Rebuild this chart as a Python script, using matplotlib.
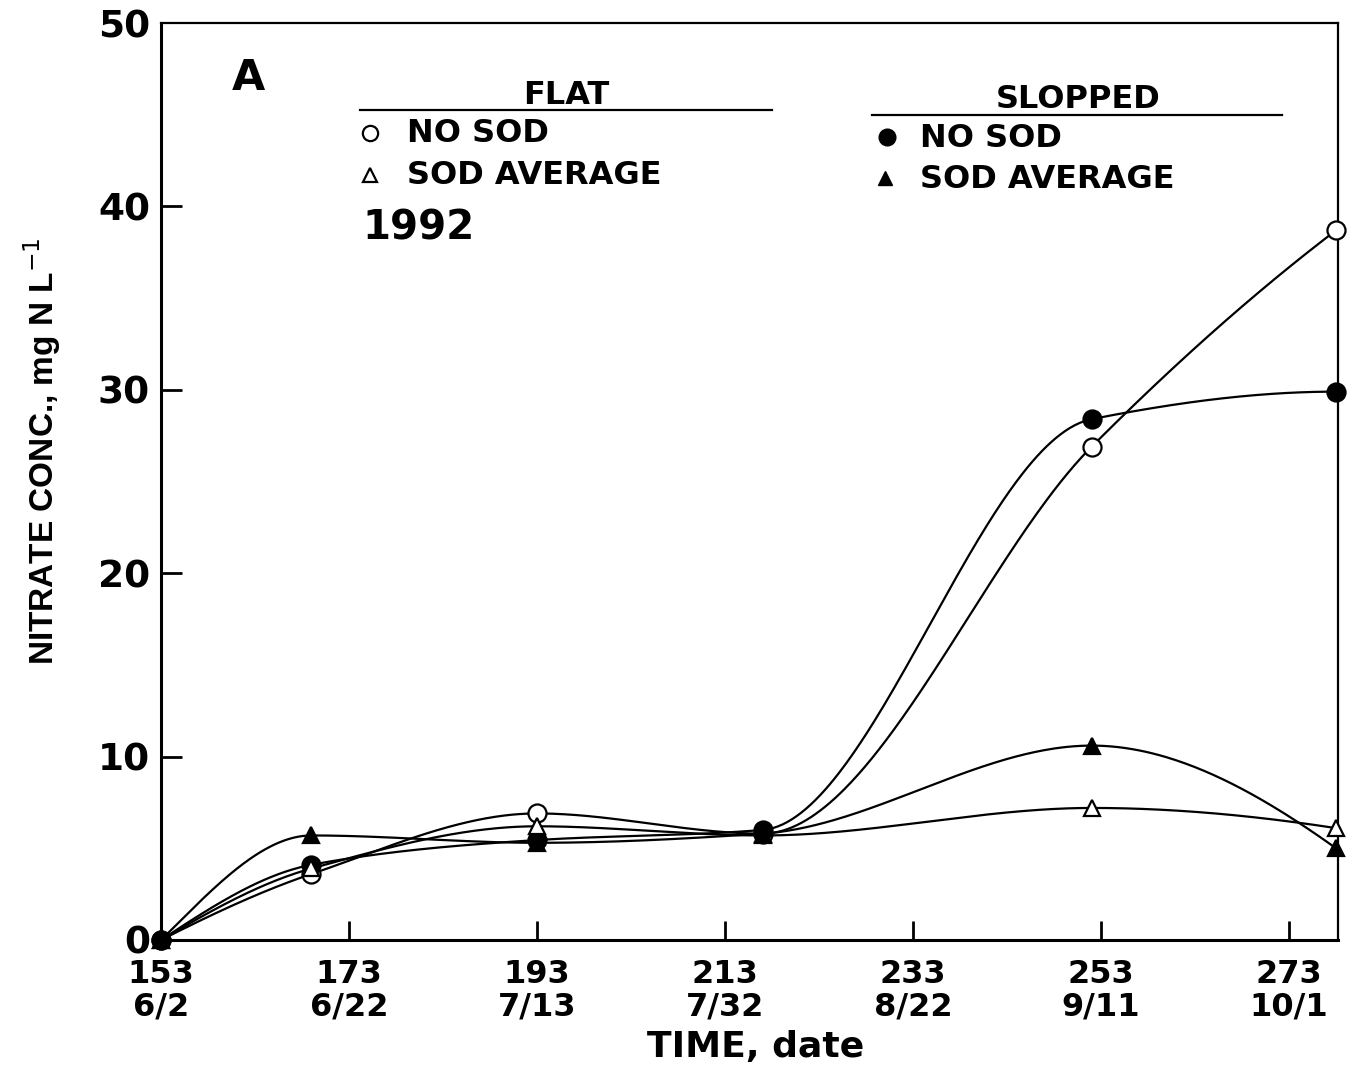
import numpy as np
import matplotlib
matplotlib.use("Agg")
import matplotlib.pyplot as plt

# ---- data ----
days = [153, 169, 193, 217, 252, 278]
flat_no_sod = [0.0, 3.6, 6.9, 5.8, 26.9, 38.7]
flat_sod_avg = [0.0, 3.9, 6.2, 5.7, 7.2, 6.1]
slop_no_sod = [0.0, 4.1, 5.45, 6.0, 28.4, 29.9]
slop_sod_avg = [0.0, 5.7, 5.3, 5.8, 10.6, 5.0]

xticks = [153, 173, 193, 213, 233, 253, 273]
xticklabels = ["153\n6/2", "173\n6/22", "193\n7/13", "213\n7/32",
               "233\n8/22", "253\n9/11", "273\n10/1"]
yticks = [0, 10, 20, 30, 40, 50]


def pchip(x, y, n=500):
    x = np.asarray(x, float); y = np.asarray(y, float)
    h = np.diff(x); d = np.diff(y) / h
    k = len(x)
    m = np.zeros(k)
    for i in range(1, k - 1):
        if d[i - 1] * d[i] <= 0:
            m[i] = 0.0
        else:
            w1 = 2 * h[i] + h[i - 1]
            w2 = h[i] + 2 * h[i - 1]
            m[i] = (w1 + w2) / (w1 / d[i - 1] + w2 / d[i])

    def end(h0, h1, d0, d1):
        v = ((2 * h0 + h1) * d0 - h0 * d1) / (h0 + h1)
        if np.sign(v) != np.sign(d0):
            v = 0.0
        elif np.sign(d0) != np.sign(d1) and abs(v) > abs(3 * d0):
            v = 3 * d0
        return v
    m[0] = end(h[0], h[1], d[0], d[1])
    m[-1] = end(h[-1], h[-2], d[-1], d[-2])
    xs = np.linspace(x[0], x[-1], n)
    idx = np.clip(np.searchsorted(x, xs) - 1, 0, k - 2)
    t = (xs - x[idx]) / h[idx]
    h00 = 2 * t ** 3 - 3 * t ** 2 + 1
    h10 = t ** 3 - 2 * t ** 2 + t
    h01 = -2 * t ** 3 + 3 * t ** 2
    h11 = t ** 3 - t ** 2
    ys = h00 * y[idx] + h10 * h[idx] * m[idx] + h01 * y[idx + 1] + h11 * h[idx] * m[idx + 1]
    return xs, ys


W, H = 1352, 1072
fig = plt.figure(figsize=(W / 100, H / 100), dpi=100)
ax = fig.add_axes([161 / W, 1 - 940 / H, (1338 - 161) / W, (940 - 23) / H])

series = [
    (flat_no_sod, "o", "white"),
    (slop_no_sod, "o", "black"),
    (flat_sod_avg, "^", "white"),
    (slop_sod_avg, "^", "black"),
]
for ys, m, fc in series:
    sx, sy = pchip(days, ys)
    ax.plot(sx, sy, color="black", lw=1.6, zorder=2, clip_on=False)
    ax.plot(days, ys, linestyle="none", marker=m, markersize=13 if m == "o" else 12,
            markerfacecolor=fc, markeredgecolor="black", markeredgewidth=1.6,
            zorder=3, clip_on=False)

ax.set_xlim(153, 278.2)
ax.set_ylim(0, 50)
ax.set_xticks(xticks)
ax.set_xticklabels(xticklabels)
ax.set_yticks(yticks)
for s in ["left", "bottom"]:
    ax.spines[s].set_linewidth(2.2)
for s in ["top", "right"]:
    ax.spines[s].set_linewidth(1.6)
ax.tick_params(axis="x", direction="in", length=14, width=2, pad=14,
               labelsize=23)
ax.tick_params(axis="y", direction="in", length=15, width=2, pad=8,
               labelsize=27)
for lab in ax.get_xticklabels() + ax.get_yticklabels():
    lab.set_fontweight("bold")
for lab in ax.get_xticklabels():
    lab.set_linespacing(1.05)
ax.xaxis.get_major_ticks()[0].tick1line.set_visible(False)
ax.yaxis.get_major_ticks()[0].tick1line.set_visible(False)
ax.yaxis.get_major_ticks()[-1].tick1line.set_visible(False)

ax.set_xlabel("TIME, date", fontsize=26, fontweight="bold")
ax.xaxis.set_label_coords(0.505, -0.0985)
ax.set_ylabel("NITRATE CONC., mg N L$^{-1}$", fontsize=24, fontweight="bold",
              family=["Liberation Sans Narrow", "Liberation Sans", "DejaVu Sans"])
ax.yaxis.set_label_coords(-0.083, 0.533)


def F(x, y):
    return x / W, 1 - y / H


ftxt = dict(fontsize=23, fontweight="bold", va="center", transform=fig.transFigure)
fig.text(*F(248, 78), "A", ha="center", fontsize=31, fontweight="bold",
         va="center", transform=fig.transFigure)
fig.text(*F(566, 96), "FLAT", ha="center", **ftxt)
fig.text(*F(1078, 99), "SLOPPED", ha="center", **ftxt)
fig.add_artist(plt.Line2D([360 / W, 772 / W], [1 - 110 / H] * 2, color="black", lw=1.6))
fig.add_artist(plt.Line2D([872 / W, 1282 / W], [1 - 115 / H] * 2, color="black", lw=1.6))

fig.add_artist(plt.Line2D([370 / W], [1 - 133 / H], marker="o", markersize=11,
                          markerfacecolor="white", markeredgecolor="black", markeredgewidth=1.6))
fig.text(*F(407, 134), "NO SOD", ha="left", **ftxt)
fig.add_artist(plt.Line2D([370 / W], [1 - 175 / H], marker="^", markersize=10,
                          markerfacecolor="white", markeredgecolor="black", markeredgewidth=1.6))
fig.text(*F(407, 176), "SOD AVERAGE", ha="left", **ftxt)
fig.add_artist(plt.Line2D([887 / W], [1 - 137 / H], marker="o", markersize=12,
                          markerfacecolor="black", markeredgecolor="black"))
fig.text(*F(920, 138), "NO SOD", ha="left", **ftxt)
fig.add_artist(plt.Line2D([885 / W], [1 - 178 / H], marker="^", markersize=10,
                          markerfacecolor="black", markeredgecolor="black"))
fig.text(*F(920, 180), "SOD AVERAGE", ha="left", **ftxt)
fig.text(*F(362, 228), "1992", ha="left", fontsize=29, fontweight="bold",
         va="center", transform=fig.transFigure)

fig.savefig("out.png", dpi=100)
